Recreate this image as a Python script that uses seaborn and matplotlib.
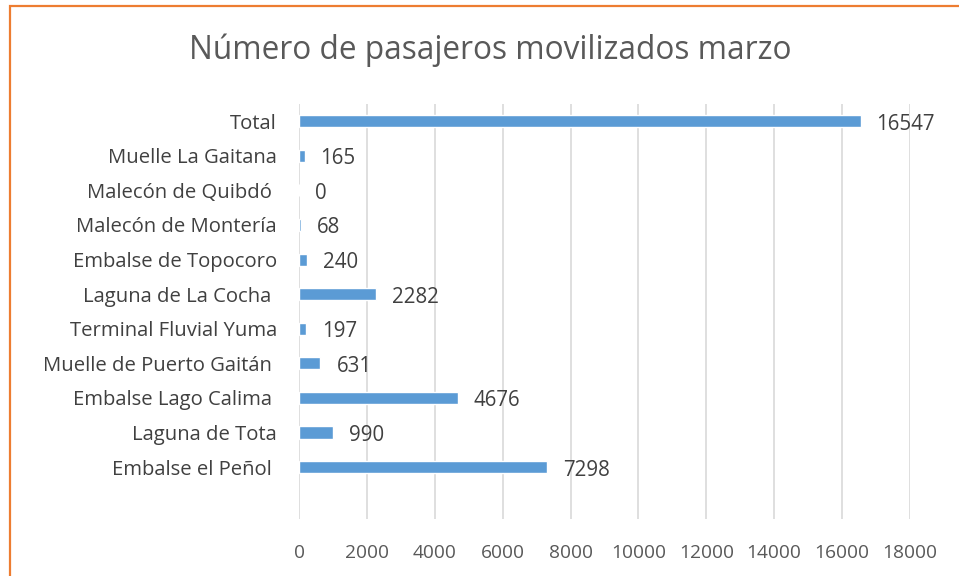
import matplotlib.pyplot as plt
import seaborn as sns
import pandas as pd
from matplotlib.patches import Rectangle

# data, top to bottom as drawn
lugares = ['Total', 'Muelle La Gaitana', 'Malecón de Quibdó ', 'Malecón de Montería',
           'Embalse de Topocoro', 'Laguna de La Cocha ', 'Terminal Fluvial Yuma',
           'Muelle de Puerto Gaitán ', 'Embalse Lago Calima ', 'Laguna de Tota',
           'Embalse el Peñol ']
pasajeros = [16547, 165, 0, 68, 240, 2282, 197, 631, 4676, 990, 7298]
xticks = list(range(0, 18001, 2000))

df = pd.DataFrame({'lugar': lugares, 'pasajeros': pasajeros})

sns.set_style('white')
plt.rcParams['font.family'] = ['Open Sans', 'DejaVu Sans']

fig = plt.figure(figsize=(9.59, 5.76), dpi=100)
ax = fig.add_axes([0.3118, 0.099, 0.637, 0.7206])

sns.barplot(data=df, x='pasajeros', y='lugar', order=lugares, color='#5B9BD5',
            width=0.35, saturation=1, ax=ax, orient='h')

ax.set_xlim(0, 18000)
ax.set_ylim(11.5, -0.5)
ax.set_xticks(xticks)
ax.set_xticklabels([str(t) for t in xticks], fontsize=13.8, color='#595959')
ax.tick_params(axis='y', labelsize=14.6, labelcolor='#404040', length=0, pad=16)
ax.tick_params(axis='x', length=0, pad=18)
ax.xaxis.grid(True, color='#D9D9D9', linewidth=1.2)
ax.set_axisbelow(True)
for s in ax.spines.values():
    s.set_visible(False)
ax.set_xlabel('')
ax.set_ylabel('')

for i, v in enumerate(pasajeros):
    ax.annotate(str(v), (v, i), xytext=(16, -3), textcoords='offset pixels',
                ha='left', va='center', fontsize=14.8, color='#404040')

fig.text(0.511, 0.913, 'Número de pasajeros movilizados marzo', ha='center', va='center',
         fontsize=22.8, color='#595959')

# orange frame, running off right and bottom like the screenshot
fig.patches.append(Rectangle((10 / 959, -0.05), 1.2, 1.05 - 5.5 / 576, transform=fig.transFigure,
                             fill=False, edgecolor='#ED7D31', linewidth=1.6))

fig.savefig('out.png', dpi=100)
